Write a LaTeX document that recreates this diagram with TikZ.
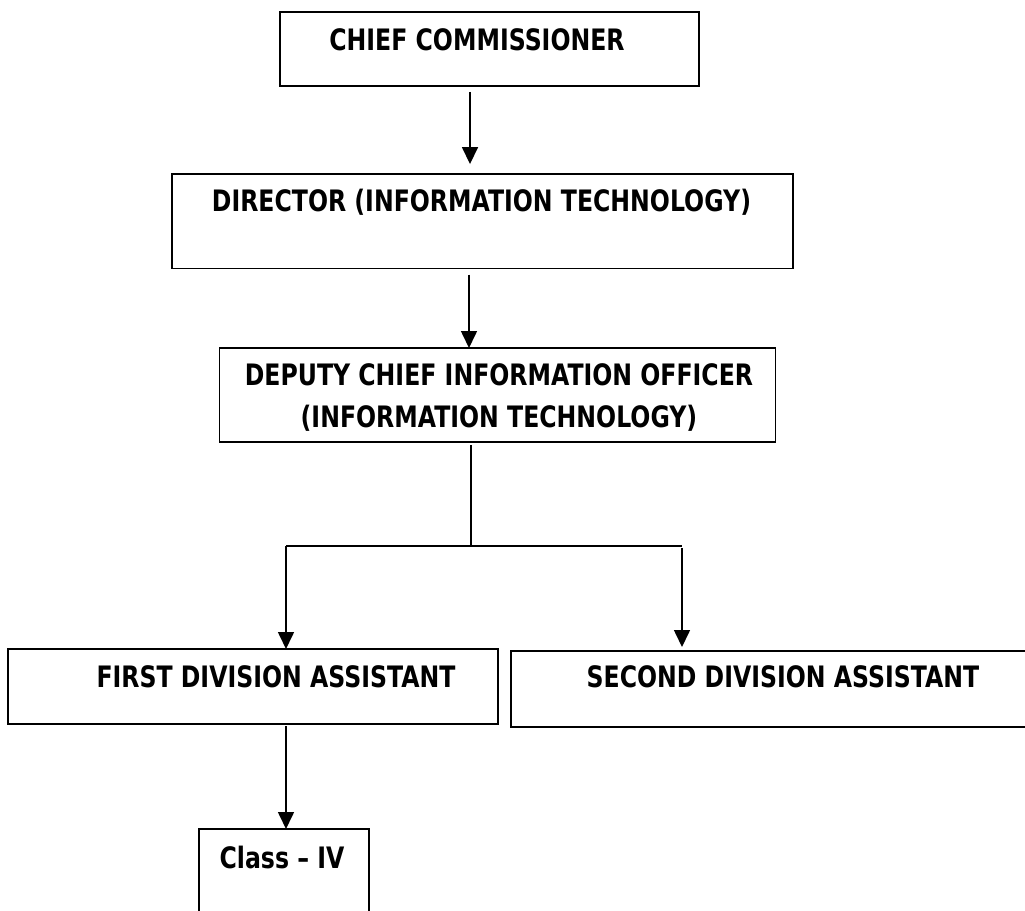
\documentclass[tikz,border=0pt]{standalone}
\usepackage{fontspec}
\setmainfont[FakeStretch=0.8]{DejaVu Sans}
\usetikzlibrary{arrows.meta}

\begin{document}
\begin{tikzpicture}[x=1pt,y=-1pt,
    every node/.style={inner sep=0pt, outer sep=0pt},
    box/.style={draw, line width=1.6pt},
    lbl/.style={anchor=base, font=\fontsize{29.5}{42}\selectfont\bfseries},
    arr/.style={line width=1.6pt, -{Triangle[length=17pt,width=16pt]}}]
    \useasboundingbox (0,0) rectangle (1025,910);
    \clip (0,0) rectangle (1025,910);

    \node[box, minimum width=419pt, minimum height=74pt] (chief) at (489.5,48.9) {};
    \node[box, minimum width=621pt, minimum height=94.5pt] (director) at (482.5,221.3) {};
    \node[box, minimum width=556pt, minimum height=94pt] (deputy) at (497.5,395) {};
    \node[box, minimum width=490pt, minimum height=75pt] (first) at (253,686.5) {};
    \node[box, minimum width=540pt, minimum height=76pt] (second) at (781,689) {};
    \node[box, minimum width=170pt, minimum height=111pt] (classiv) at (284,884.5) {};

    \node[lbl] (chieftext) at (477,50) {CHIEF COMMISSIONER};
    \node[lbl] (directortext) at (481.5,211.7) {DIRECTOR (INFORMATION TECHNOLOGY)};
    \node[lbl] (deputytext) at (499,385) {DEPUTY CHIEF INFORMATION OFFICER};
    \node[lbl] (deputytextb) at (499,427) {(INFORMATION TECHNOLOGY)};
    \node[lbl] (firsttext) at (276,687) {FIRST DIVISION ASSISTANT};
    \node[lbl] (secondtext) at (783,687) {SECOND DIVISION ASSISTANT};
    \node[lbl] (classtext) at (282,868) {Class -- IV};

    \coordinate (fork) at (471,546);
    \coordinate (forkl) at (286,546);
    \coordinate (forkr) at (682,546);

    \draw[arr, shorten <=6pt, shorten >=10pt] ([xshift=-19.5pt]chief.south) -- ([xshift=-12.5pt]director.north);
    \draw[arr, shorten <=6pt] ([xshift=-13.5pt]director.south) -- ([xshift=-28.5pt]deputy.north);
    \draw[line width=1.6pt, shorten <=3pt] ([xshift=-26.5pt]deputy.south) -- (fork);
    \draw[line width=1.6pt] (forkl) -- (forkr);
    \draw[arr] (forkl) -- (forkl |- first.north);
    \draw[arr, shorten >=4pt] ([yshift=-2pt]forkr) -- (forkr |- second.north);
    \draw[arr, shorten <=2pt] (forkl |- first.south) -- (forkl |- classiv.north);
\end{tikzpicture}
\end{document}
